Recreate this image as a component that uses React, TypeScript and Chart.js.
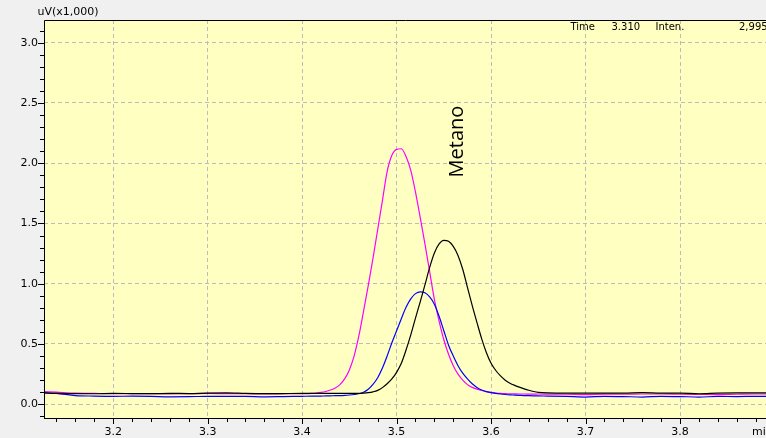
import React, { useEffect, useRef } from "react";
import { Chart, registerables } from "chart.js";

Chart.register(...registerables);

const times = [
  3.127, 3.14, 3.16, 3.18, 3.2, 3.22, 3.24, 3.26, 3.28, 3.3, 3.32, 3.34, 3.36, 3.38, 3.4,
  3.41, 3.415, 3.42, 3.425, 3.43, 3.435, 3.44, 3.445, 3.45, 3.455,
  3.46, 3.465, 3.47, 3.475, 3.48, 3.485, 3.49, 3.495, 3.5, 3.505,
  3.51, 3.515, 3.52, 3.525, 3.53, 3.535, 3.54, 3.545, 3.55, 3.555,
  3.56, 3.565, 3.57, 3.575, 3.58, 3.585, 3.59, 3.595, 3.6, 3.605,
  3.61, 3.615, 3.62, 3.625, 3.63, 3.635, 3.64, 3.645, 3.65,
  3.66, 3.68, 3.7, 3.72, 3.74, 3.76, 3.78, 3.8, 3.82, 3.84, 3.86, 3.88, 3.891,
];

const pinkSeries = [
  0.105, 0.1, 0.092, 0.09, 0.088, 0.087, 0.088, 0.086, 0.087, 0.09, 0.088, 0.087, 0.086, 0.087, 0.088,
  0.09, 0.093, 0.098, 0.106, 0.118, 0.135, 0.163, 0.21, 0.285, 0.4,
  0.565, 0.77, 0.985, 1.21, 1.45, 1.69, 1.93, 2.065, 2.115, 2.12,
  2.055, 1.94, 1.76, 1.55, 1.33, 1.1, 0.87, 0.69, 0.535, 0.415,
  0.32, 0.25, 0.2, 0.163, 0.14, 0.125, 0.114, 0.105, 0.098, 0.093,
  0.09, 0.088, 0.087, 0.086, 0.085, 0.085, 0.084, 0.084, 0.085,
  0.084, 0.083, 0.08, 0.084, 0.083, 0.085, 0.085, 0.083, 0.082, 0.08, 0.083, 0.085, 0.085,
];

const blueSeries = [
  0.095, 0.09, 0.072, 0.068, 0.066, 0.067, 0.066, 0.062, 0.063, 0.066, 0.065, 0.066, 0.062, 0.064, 0.066,
  0.067, 0.067, 0.068, 0.069, 0.07, 0.071, 0.072, 0.074, 0.077, 0.081,
  0.087, 0.1, 0.125, 0.165, 0.22, 0.3, 0.4, 0.51, 0.61, 0.71,
  0.805, 0.875, 0.918, 0.933, 0.925, 0.89, 0.83, 0.73, 0.61, 0.49,
  0.4, 0.32, 0.258, 0.21, 0.17, 0.14, 0.118, 0.105, 0.097, 0.09,
  0.085, 0.081, 0.078, 0.076, 0.074, 0.072, 0.071, 0.07, 0.069,
  0.068, 0.065, 0.06, 0.066, 0.064, 0.06, 0.066, 0.064, 0.06, 0.065, 0.064, 0.066, 0.066,
];

const blackSeries = [
  0.095, 0.09, 0.088, 0.087, 0.09, 0.089, 0.088, 0.09, 0.089, 0.093, 0.094, 0.09, 0.088, 0.089, 0.09,
  0.09, 0.09, 0.09, 0.09, 0.09, 0.09, 0.09, 0.09, 0.09, 0.09,
  0.09, 0.092, 0.096, 0.103, 0.115, 0.138, 0.17, 0.21, 0.265, 0.34,
  0.45, 0.575, 0.715, 0.85, 0.99, 1.135, 1.255, 1.33, 1.36, 1.352,
  1.31, 1.235, 1.12, 0.97, 0.82, 0.68, 0.545, 0.43, 0.34, 0.28,
  0.235, 0.2, 0.175, 0.157, 0.142, 0.128, 0.116, 0.106, 0.099,
  0.094, 0.092, 0.092, 0.093, 0.093, 0.096, 0.092, 0.092, 0.087, 0.092, 0.094, 0.094, 0.094,
];

const xTickValues = [3.2, 3.3, 3.4, 3.5, 3.6, 3.7, 3.8];
const yTickValues = [0, 0.5, 1.0, 1.5, 2.0, 2.5, 3.0];
const xRange = [3.1268, 3.891];
const yRange = [-0.114, 3.188];
const xMinorStep = 0.02;
const yMinorStep = 0.1;

const yAxisTitle = "uV(x1,000)";
const xAxisTitle = "min";
const headerTexts = [
  { text: "Time", x: 570.5 },
  { text: "3.310", x: 611.5 },
  { text: "Inten.", x: 655.5 },
  { text: "2,995", x: 739 },
];
const peakLabel = "Metano";
const peakLabelTime = 3.57;
const peakLabelValue = 2.18;

const toPoints = (vals: number[]) => vals.map((v, i) => ({ x: times[i], y: v }));

export default function App() {
  const ref = useRef<HTMLCanvasElement | null>(null);

  useEffect(() => {
    document.body.style.margin = "0";
    const canvas = ref.current;
    if (!canvas) return;

    const decor = {
      id: "decor",
      beforeDraw(chart: any) {
        const { ctx, chartArea: a } = chart;
        ctx.save();
        ctx.fillStyle = "#f0f0f0";
        ctx.fillRect(0, 0, chart.width, chart.height);
        ctx.fillStyle = "#ffffc2";
        ctx.fillRect(a.left, a.top, a.right - a.left, a.bottom - a.top);
        ctx.restore();
      },
      afterDraw(chart: any) {
        const { ctx, chartArea: a, scales } = chart;
        const xs = scales.x;
        const ys = scales.y;
        ctx.save();
        ctx.strokeStyle = "#000";
        ctx.lineWidth = 1;
        ctx.beginPath();
        ctx.moveTo(a.left + 0.5, a.bottom + 0.5);
        ctx.lineTo(a.left + 0.5, a.top + 0.5);
        ctx.lineTo(a.right, a.top + 0.5);
        ctx.moveTo(a.left, a.bottom + 0.5);
        ctx.lineTo(a.right, a.bottom + 0.5);
        ctx.stroke();
        ctx.beginPath();
        for (let k = -1; k * yMinorStep <= yRange[1]; k++) {
          const v = k * yMinorStep;
          if (v < yRange[0]) continue;
          const py = Math.round(ys.getPixelForValue(v)) + 0.5;
          const major = k % 5 === 0;
          ctx.moveTo(a.left, py);
          ctx.lineTo(a.left - (major ? 6 : 4), py);
        }
        for (let k = Math.ceil(xRange[0] / xMinorStep); k * xMinorStep <= xRange[1]; k++) {
          const v = k * xMinorStep;
          const px = Math.round(xs.getPixelForValue(v)) + 0.5;
          const major = k % 5 === 0;
          ctx.moveTo(px, a.bottom);
          ctx.lineTo(px, a.bottom + (major ? 6 : 4));
        }
        ctx.stroke();

        ctx.fillStyle = "#000";
        ctx.font = '11px "DejaVu Sans"';
        ctx.textAlign = "left";
        ctx.textBaseline = "alphabetic";
        ctx.fillText(yAxisTitle, 37.5, 15);
        ctx.fillText(xAxisTitle, 752, 435);
        ctx.font = '10px "DejaVu Sans"';
        headerTexts.forEach((h) => ctx.fillText(h.text, h.x, 30));

        ctx.font = '20px "Open Sans"';
        ctx.textAlign = "center";
        const lx = xs.getPixelForValue(peakLabelTime);
        const ly = ys.getPixelForValue(peakLabelValue);
        ctx.translate(lx, ly);
        ctx.rotate(-Math.PI / 2);
        ctx.fillText(peakLabel, 0, 0);
        ctx.restore();
      },
    };

    const mk = (label: string, vals: number[], color: string) => ({
      label,
      data: toPoints(vals),
      borderColor: color,
      borderWidth: 1.2,
      pointRadius: 0,
      fill: false,
      cubicInterpolationMode: "monotone" as const,
    });

    const chart = new Chart(canvas, {
      type: "line",
      data: {
        datasets: [
          mk("black", blackSeries, "#000000"),
          mk("blue", blueSeries, "#0000ff"),
          mk("pink", pinkSeries, "#ff00ff"),
        ],
      },
      plugins: [decor],
      options: {
        responsive: false,
        animation: false,
        devicePixelRatio: 1,
        layout: { padding: { top: 20, left: 0, right: 0, bottom: 0 } },
        plugins: { legend: { display: false }, tooltip: { enabled: false }, title: { display: false } },
        scales: {
          x: {
            type: "linear",
            min: xRange[0],
            max: xRange[1],
            afterBuildTicks: (s: any) => {
              s.ticks = xTickValues.map((v) => ({ value: v }));
            },
            afterFit: (s: any) => {
              s.height = 20;
            },
            grid: { color: "#bcbcbc", lineWidth: 1, drawTicks: false },
            border: { display: false, dash: [4, 3] },
            ticks: {
              padding: 8,
              color: "#000",
              font: { family: "DejaVu Sans", size: 11 },
              maxRotation: 0,
              callback: (v: any) => Number(v).toFixed(1),
            },
          },
          y: {
            type: "linear",
            min: yRange[0],
            max: yRange[1],
            afterBuildTicks: (s: any) => {
              s.ticks = yTickValues.map((v) => ({ value: v }));
            },
            afterFit: (s: any) => {
              s.width = 44;
            },
            grid: { color: "#bcbcbc", lineWidth: 1, drawTicks: false },
            border: { display: false, dash: [4, 3] },
            ticks: {
              padding: 6,
              color: "#000",
              font: { family: "DejaVu Sans", size: 11 },
              callback: (v: any) => Number(v).toFixed(1),
            },
          },
        },
      },
    });
    return () => chart.destroy();
  }, []);

  return <canvas ref={ref} width={766} height={438} style={{ display: "block" }} />;
}
